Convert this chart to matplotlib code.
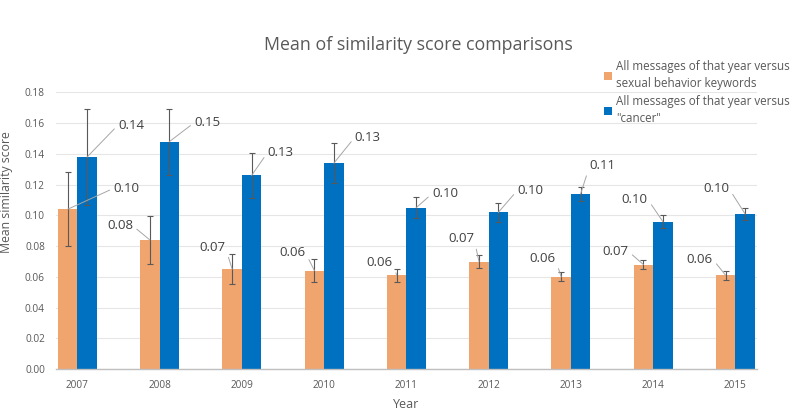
import numpy as np
import matplotlib
matplotlib.use('Agg')
import matplotlib.pyplot as plt

plt.rcParams['font.family'] = ['Open Sans', 'DejaVu Sans']

years = ['2007', '2008', '2009', '2010', '2011', '2012', '2013', '2014', '2015']
sexual_mean = [0.104, 0.084, 0.065, 0.064, 0.061, 0.070, 0.060, 0.068, 0.061]
sexual_err = [0.024, 0.0155, 0.0098, 0.0076, 0.0041, 0.0040, 0.0029, 0.0028, 0.0029]
cancer_mean = [0.138, 0.148, 0.126, 0.134, 0.105, 0.102, 0.114, 0.096, 0.101]
cancer_err = [0.031, 0.0215, 0.0148, 0.013, 0.0069, 0.006, 0.0048, 0.0045, 0.0041]
sexual_labels = ['0.10', '0.08', '0.07', '0.06', '0.06', '0.07', '0.06', '0.07', '0.06']
cancer_labels = ['0.14', '0.15', '0.13', '0.13', '0.10', '0.10', '0.11', '0.10', '0.10']

# label offsets in pixels (dx, up) from bar top
sexual_off = [(59, 21), (-30, 14), (-20, 22), (-22, 18), (-17, 13),
              (-18, 23), (-19, 18), (-28, 13), (-26, 16)]
cancer_off = [(44, 32), (38, 19), (29, 23), (34, 26), (29, 14),
              (32, 22), (22, 28), (-28, 22), (-29, 25)]

ORANGE = '#F0A46E'
BLUE = '#0070C0'
TXT = '#595959'

fig = plt.figure(figsize=(8, 4.11), dpi=100)
ax = fig.add_axes([0.07, 0.102, 0.876, 0.673])

x = np.arange(len(years))
w = 0.236
ax.bar(x - w / 2, sexual_mean, w, color=ORANGE, zorder=2,
       label='All messages of that year versus\nsexual behavior keywords')
ax.bar(x + w / 2, cancer_mean, w, color=BLUE, zorder=2,
       label='All messages of that year versus\n"cancer"')
ekw = dict(fmt='none', ecolor='#595959', elinewidth=0.8, capsize=2.5, capthick=0.8, zorder=3)
ax.errorbar(x - w / 2, sexual_mean, yerr=sexual_err, **ekw)
ax.errorbar(x + w / 2, cancer_mean, yerr=cancer_err, **ekw)

px = 72 / 100
for xs, ms, labs, offs in [(x - w / 2, sexual_mean, sexual_labels, sexual_off),
                           (x + w / 2, cancer_mean, cancer_labels, cancer_off)]:
    for xi, m, lab, (dx, up) in zip(xs, ms, labs, offs):
        ha_rel = (0, 0.5) if dx > 0 else (1, 0.5)
        ax.annotate(lab, (xi, m), xytext=(dx * px, up * px), textcoords='offset points',
                    ha='center', va='center', fontsize=9.5, color='#404040', zorder=4,
                    arrowprops=dict(arrowstyle='-', color='#a6a6a6', lw=0.7,
                                    shrinkA=1, shrinkB=0, relpos=ha_rel))

ax.set_xlim(-0.26, 8.26)
ax.set_ylim(0, 0.18)
ax.set_yticks(np.arange(0, 0.181, 0.02))
ax.set_yticklabels([f'{v:.2f}' for v in np.arange(0, 0.181, 0.02)])
ax.set_xticks(x)
ax.set_xticklabels(years)
ax.tick_params(axis='y', length=0, labelsize=7.3, labelcolor=TXT, pad=8)
ax.tick_params(axis='x', length=0, labelsize=7.2, labelcolor=TXT, pad=8)
ax.grid(axis='y', color='#e6e6e6', lw=0.8, zorder=0)
for s in ['top', 'right', 'left']:
    ax.spines[s].set_visible(False)
ax.spines['bottom'].set_color('#bfbfbf')
ax.spines['bottom'].set_linewidth(1.0)

ax.set_ylabel('Mean similarity score', fontsize=8.8, color=TXT)
ax.yaxis.set_label_coords(-0.061, 0.64)
ax.set_xlabel('Year', fontsize=9, color=TXT, labelpad=5)

fig.text(0.523, 0.89, 'Mean of similarity score comparisons', ha='center', va='center',
         fontsize=12.8, color=TXT)

leg = fig.legend(loc='upper left', bbox_to_anchor=(0.742, 0.879), frameon=False,
                 fontsize=8.4, labelcolor=TXT, handlelength=0.7, handleheight=0.7,
                 handletextpad=0.3, labelspacing=0.45)
for t in leg.get_texts():
    t.set_linespacing(1.4)

fig.savefig('out.png', dpi=100)
